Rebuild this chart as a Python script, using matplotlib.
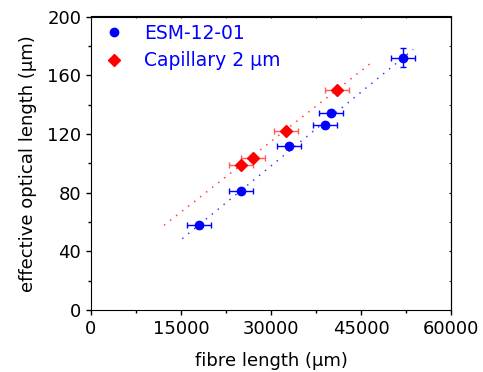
import numpy as np
import matplotlib.pyplot as plt
from matplotlib.ticker import MultipleLocator

plt.rcParams['font.family'] = ['DejaVu Sans']

# ESM-12-01 data
esm_x = [18050, 25050, 33050, 39050, 40000, 52050]
esm_y = [57.7, 80.9, 111.5, 125.8, 134.5, 172.0]
esm_xerr = [2000, 2000, 2000, 2000, 2000, 2000]
esm_yerr = [1.5, 1.5, 1.5, 1.5, 1.5, 6.4]

# Capillary 2 um data
cap_x = [25050, 27050, 32500, 41050]
cap_y = [99.0, 103.6, 122.2, 150.1]
cap_xerr = [2000, 2000, 2000, 2000]
cap_yerr = [1.5, 1.5, 1.5, 1.5]

# fit line endpoints
esm_fit_x = [15200, 53700]
esm_fit_y = [48.6, 177.6]
cap_fit_x = [12170, 47050]
cap_fit_y = [57.7, 169.5]

fig = plt.figure(figsize=(4.83, 3.72), dpi=100)
ax = fig.add_axes([91/483, 1-310/372, 360/483, 293.5/372])

ax.plot(esm_fit_x, esm_fit_y, linestyle=(0, (1, 4)), color='blue', lw=1.1, alpha=0.75)
ax.plot(cap_fit_x, cap_fit_y, linestyle=(0, (1, 4)), color='red', lw=1.1, alpha=0.75)

eb1 = ax.errorbar(esm_x, esm_y, xerr=esm_xerr, yerr=esm_yerr, fmt='o', color='blue',
                  ms=6, capsize=2.3, elinewidth=1, capthick=1)
eb2 = ax.errorbar(cap_x, cap_y, xerr=cap_xerr, yerr=cap_yerr, fmt='D', color='red',
                  ms=6, capsize=2.3, elinewidth=1, capthick=1, ecolor=(1, 0.35, 0.35))

ax.set_xlim(0, 60000)
ax.set_ylim(0, 200)
ax.xaxis.set_major_locator(MultipleLocator(15000))
ax.xaxis.set_minor_locator(MultipleLocator(7500))
ax.yaxis.set_major_locator(MultipleLocator(40))
ax.yaxis.set_minor_locator(MultipleLocator(20))
ax.tick_params(which='major', direction='out', length=3.5, width=1, labelsize=13)
ax.tick_params(which='minor', direction='out', length=2, width=1)

# inward ticks on the top and right sides
top = ax.secondary_xaxis('top')
top.xaxis.set_major_locator(MultipleLocator(15000))
top.xaxis.set_minor_locator(MultipleLocator(7500))
top.tick_params(which='both', direction='in', length=1.5, labeltop=False)
right = ax.secondary_yaxis('right')
right.yaxis.set_major_locator(MultipleLocator(40))
right.yaxis.set_minor_locator(MultipleLocator(20))
right.tick_params(which='both', direction='in', length=1.5, labelright=False)

ax.set_xlabel('fibre length (\u03bcm)', fontsize=13, labelpad=10)
ax.set_ylabel('effective optical length (\u03bcm)', fontsize=13, labelpad=7)

leg = ax.legend([eb1[0], eb2[0]], ['ESM-12-01', 'Capillary 2 \u03bcm'],
                loc='upper left', frameon=False, fontsize=13.5, handletextpad=0.83,
                borderaxespad=0.0, labelspacing=0.45, handlelength=1.6)
for t in leg.get_texts():
    t.set_color('blue')

fig.savefig('out.png', dpi=100)
